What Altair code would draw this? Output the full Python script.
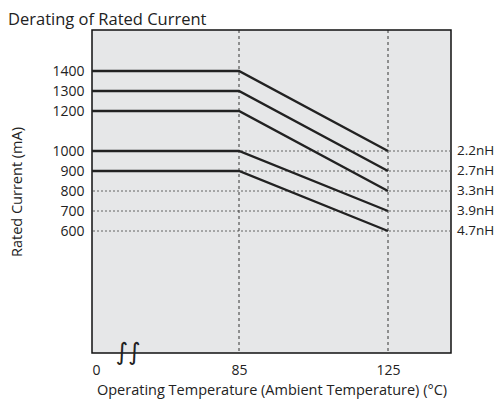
import altair as alt
import pandas as pd

# ---- data ----
temps_flat = [0, 85]          # rated current held up to 85 °C
temp_end = 125                # derated value at 125 °C
series = ["2.2nH", "2.7nH", "3.3nH", "3.9nH", "4.7nH"]
rated = [1400, 1300, 1200, 1000, 900]
derated = [1000, 900, 800, 700, 600]
y_ticks = [600, 700, 800, 900, 1000, 1200, 1300, 1400]
x_ticks = [0, 85, 125]
grid_y = [600, 700, 800, 900, 1000]
grid_x = [85, 125]
break_at = [21]

rows = []
for s, r, d in zip(series, rated, derated):
    for t in temps_flat:
        rows.append({"series": s, "t": t, "i": r})
    rows.append({"series": s, "t": temp_end, "i": d})
df = pd.DataFrame(rows)
ends = pd.DataFrame({"series": series, "t": [temp_end] * len(series), "i": derated})
gy = pd.DataFrame({"t": [0] * len(grid_y), "i": grid_y})
gx = pd.DataFrame({"t": grid_x, "i": [0] * len(grid_x)})
br = pd.DataFrame({"t": break_at, "i": [-10]})

FONT = "Open Sans"
W, H = 359, 323

xscale = alt.Scale(domain=[0, 85, 125, 142], range=[0, 147, 296, 359], nice=False, zero=False)
yscale = alt.Scale(domain=[-10, 1605], nice=False, zero=False)

xaxis = alt.Axis(values=x_ticks, ticks=False, domain=False, grid=False, labelPadding=10,
                 labelFontSize=14, labelColor="#222", titleFontSize=14.5,
                 titleFontWeight="normal", titleColor="#222", titlePadding=6,
                 labelFont=FONT, titleFont=FONT, format="d")
yaxis = alt.Axis(values=y_ticks, ticks=False, domain=False, grid=False, labelPadding=8,
                 labelFontSize=14, labelColor="#222", titleFontSize=14.5,
                 titleFontWeight="normal", titleColor="#222", titleX=-75, titleY=H / 2,
                 titleBaseline="middle", labelFont=FONT, titleFont=FONT, format="d")

XT = "Operating Temperature (Ambient Temperature) (°C)"
YT = "Rated Current (mA)"

def X():
    return alt.X("t:Q", scale=xscale, axis=xaxis, title=XT)

def Y():
    return alt.Y("i:Q", scale=yscale, axis=yaxis, title=YT)

hgrid = alt.Chart(gy).mark_rule(strokeDash=[2, 2], color="#555", strokeWidth=0.9).encode(y=Y())
vgrid = alt.Chart(gx).mark_rule(strokeDash=[3, 3], color="#222", strokeWidth=0.9).encode(x=X())
lines = alt.Chart(df).mark_line(color="#222", strokeWidth=2.4).encode(x=X(), y=Y(), detail="series:N")
labels = alt.Chart(ends).mark_text(align="left", baseline="middle", fontSize=13.5, font=FONT,
                                    color="#222").encode(x=alt.value(W + 6), y=Y(), text="series:N")
brk = alt.Chart(br).mark_text(text="∫∫", fontSize=24, font="DejaVu Sans", color="#222",
                              baseline="middle", align="center").encode(x=X(), y=Y())

chart = alt.layer(hgrid, vgrid, lines, labels, brk).properties(
    width=W, height=H,
    autosize=alt.AutoSizeParams(type="none"),
    padding={"left": 84, "top": 22, "right": 44, "bottom": 47},
    title=alt.TitleParams("Derating of Rated Current", anchor="start", frame="group", dx=-84,
                          offset=1, fontSize=16.5, fontWeight="normal", font=FONT, color="#222"),
).configure_view(fill="#e6e7e8", stroke="#111", strokeWidth=1.5)

chart.save("out.html", embed_options={"renderer": "svg", "actions": False})
